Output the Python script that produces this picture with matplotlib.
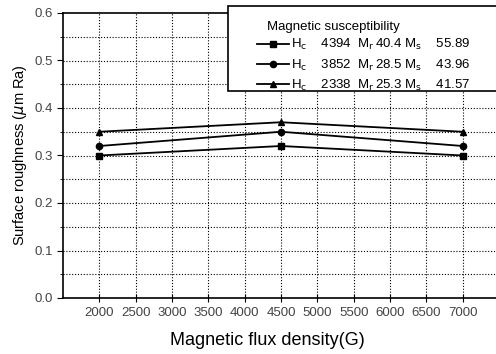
import matplotlib.pyplot as plt
from matplotlib.ticker import MultipleLocator
from matplotlib.patches import Rectangle
import numpy as np

plt.rcParams['font.family'] = ['Liberation Sans', 'DejaVu Sans']

flux = [2000, 4500, 7000]
rough_sq = [0.30, 0.32, 0.30]
rough_ci = [0.32, 0.35, 0.32]
rough_tr = [0.35, 0.37, 0.35]
markers = ['s', 'o', '^']
labels = [r'H$_\mathrm{c}$    4394  M$_\mathrm{r}\,$40.4 M$_\mathrm{s}$    55.89',
          r'H$_\mathrm{c}$    3852  M$_\mathrm{r}\,$28.5 M$_\mathrm{s}$    43.96',
          r'H$_\mathrm{c}$    2338  M$_\mathrm{r}\,$25.3 M$_\mathrm{s}$    41.57']
xticks = np.arange(2000, 7001, 500)

fig = plt.figure(figsize=(4.96, 3.54), dpi=100)
ax = fig.add_axes([63 / 496, 56 / 354, 436 / 496, 285 / 354])

for y, m, lab in zip([rough_sq, rough_ci, rough_tr], markers, labels):
    ax.plot(flux, y, color='black', lw=1.3, marker=m, markersize=4.5, label=lab)

ax.set_xlim(1500, 7500)
ax.set_ylim(0, 0.6)
ax.set_xticks(xticks)
ax.set_xticklabels([str(v) for v in xticks])
ax.yaxis.set_major_locator(MultipleLocator(0.1))
ax.yaxis.set_minor_locator(MultipleLocator(0.05))
ax.yaxis.set_major_formatter(plt.FormatStrFormatter('%.1f'))

# dotted grid
for v in xticks:
    ax.axvline(v, color='black', ls=(0, (1, 1.6)), lw=0.8, zorder=0)
for v in np.arange(0.05, 0.6, 0.05):
    ax.axhline(v, color='black', ls=(0, (1, 1.6)), lw=0.8, zorder=0)

ax.tick_params(axis='x', direction='inout', length=6, labelsize=9.5, labelcolor='#444444')
ax.tick_params(axis='y', which='major', direction='out', length=4, labelsize=9.5, labelcolor='#444444')
ax.tick_params(axis='y', which='minor', direction='out', length=2)
for s in ax.spines.values():
    s.set_linewidth(1.2)

ax.set_xlabel('Magnetic flux density(G)', fontsize=13)
ax.xaxis.set_label_coords((267 - 63) / 436, -0.12)
ax.set_ylabel(r'Surface roughness ($\mu$m Ra)', fontsize=10.5, labelpad=4)

# legend frame running off the right edge
ax.add_patch(Rectangle((0.378, 0.726), 0.7, 0.3, transform=ax.transAxes, facecolor='white',
                       edgecolor='black', lw=1.2, zorder=3, clip_on=False))
ax.text((267 - 63) / 436, (298 - 27) / 285, 'Magnetic susceptibility', transform=ax.transAxes,
        fontsize=9.5, ha='left', va='center', zorder=5)
leg = ax.legend(loc='upper left', bbox_to_anchor=((257 - 63) / 436, 0.915), frameon=False,
                fontsize=9.5, borderaxespad=0, borderpad=0, handlelength=2.4,
                labelspacing=0.4, handletextpad=0.2)
leg.set_zorder(4)

fig.savefig('out.png', dpi=100)
